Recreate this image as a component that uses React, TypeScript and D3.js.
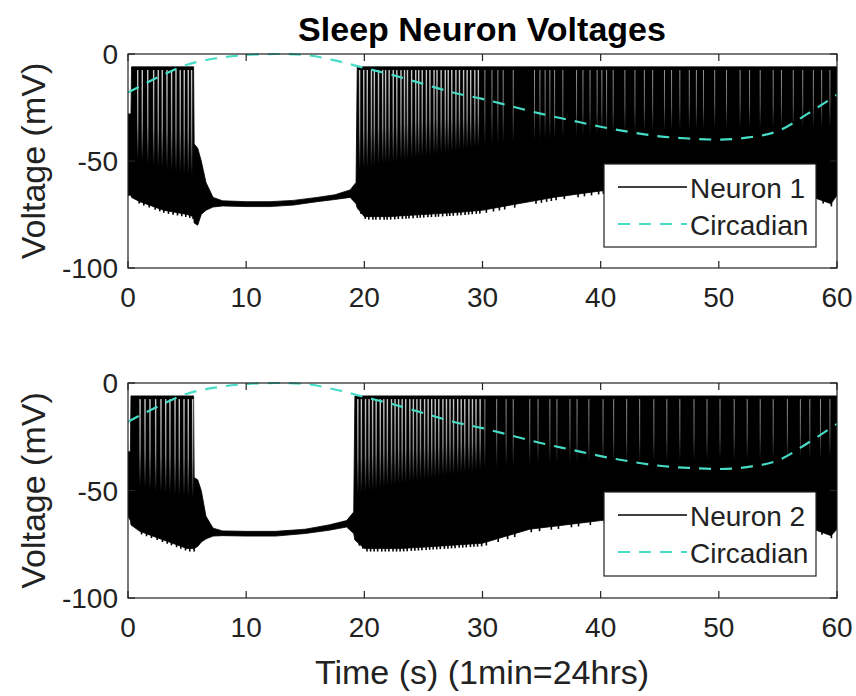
import * as d3 from 'd3'

const W = 856
const H = 696
const FONT = 'Liberation Sans, Arial, Helvetica, sans-serif'
const INK = '#222'
const CIRC_COLOR = '#46dcc6'

const X_TICKS = [0, 10, 20, 30, 40, 50, 60]
const Y_TICKS = [-100, -50, 0]

// spike peak level (mV)
const PEAK = -6
// after this time the spiking is dense and the gaps between spikes get thin
const DENSE_FROM = 30

// circadian drive, read every 2.5 s
const circT = [0, 2.5, 5, 7.5, 10, 12.5, 15, 17.5, 20, 22.5, 25, 27.5, 30, 32.5, 35, 37.5, 40, 42.5, 45, 47.5, 50, 52.5, 55, 57.5, 60]
const circV = [-18, -11, -5, -2, -0.5, 0, -0.5, -3, -6.5, -10, -14, -18, -21, -24.5, -28, -31, -34, -36.5, -38.5, -39.5, -40, -39, -36, -28, -19]

// neuron 1: envelope of the trace (top / bottom of the black band)
const n1T = [0, 0.25, 0.3, 1, 2, 3, 4, 5, 5.55, 5.6, 5.9, 6.2, 6.6, 7.2, 8, 10, 12, 14, 16, 17.5, 18.8, 19.3, 19.4, 20, 22, 25, 28, 30, 33, 36, 40, 45, 50, 55, 58, 59.5, 60]
const n1Top = [-28, -28, PEAK, PEAK, PEAK, PEAK, PEAK, PEAK, PEAK, -42, -44, -50, -60, -67, -68.6, -69, -69, -68.4, -67, -65.8, -63.5, -60, PEAK, PEAK, PEAK, PEAK, PEAK, PEAK, PEAK, PEAK, PEAK, PEAK, PEAK, PEAK, PEAK, PEAK, PEAK]
const n1Low = [-66, -66, -67, -69, -71, -73, -74, -75, -76, -79, -80, -75, -73, -71.5, -71, -71.3, -71.3, -70.6, -69, -68, -67, -70, -72, -76, -76, -75, -74, -73, -70, -67, -64, -62, -62, -64, -67, -70, -66]
// level below which the spiking band is solid black
const n1SolidT = [0.3, 2, 4, 5.5, 19.4, 21, 24, 27, 30, 35, 40, 45, 50, 55, 60]
const n1SolidV = [-48, -52, -55, -57, -55, -52, -49, -46, -43, -40, -38, -36, -35, -35, -35]
// times of the white gaps between spikes
const n1Gaps = [
  0.82, 1.21, 1.67, 2.17, 2.56, 2.9, 3.3, 3.69, 4.06, 4.42, 4.76, 5.1, 5.38,
  19.6, 19.95, 20.25, 20.6, 20.85, 21.2, 21.55, 21.8, 22.1, 22.45, 22.75, 23.1, 23.4, 23.65, 24.0, 24.35, 24.6, 24.9,
  25.25, 25.55, 25.9, 26.15, 26.5, 26.85, 27.1, 27.4, 27.75, 28.05, 28.4, 28.7, 29.0, 29.35, 29.65,
  30.2, 30.8, 31.3, 31.75, 32.6, 34.4, 34.86, 35.3, 35.7, 36.1, 36.8, 37.96, 38.5, 39.1, 39.7, 40.1,
  40.5, 41.06, 42.05, 42.9, 43.7, 44.4, 45.4, 46.0, 46.7, 47.5, 48.1, 48.7, 49.65, 50.65, 51.8, 52.6,
  53.5, 54.6, 55.3, 56.3, 57.1, 58.0, 58.7, 59.4,
]

// neuron 2
const n2T = [0, 0.2, 0.25, 1, 2, 3, 4, 5, 5.55, 5.6, 5.9, 6.2, 6.6, 7.2, 8, 10, 12.5, 15, 17, 18.5, 19.1, 19.2, 20, 23, 26, 30, 34, 37, 40, 45, 50, 55, 58, 59.5, 60]
const n2Top = [-32, -32, PEAK, PEAK, PEAK, PEAK, PEAK, PEAK, PEAK, -44, -45, -50, -62, -67.5, -68.8, -69, -69, -68, -66, -64, -60, PEAK, PEAK, PEAK, PEAK, PEAK, PEAK, PEAK, PEAK, PEAK, PEAK, PEAK, PEAK, PEAK, PEAK]
const n2Low = [-62, -64, -66, -69, -71, -73, -75, -77, -77, -77, -76, -74, -72.5, -71.2, -71, -71.2, -71.2, -70, -68.5, -67, -70, -73, -77, -77, -76, -74.5, -68, -66, -64, -61, -61, -63, -68, -71, -68]
const n2SolidT = [0.25, 2, 4, 5.5, 19.2, 22, 26, 30, 35, 40, 50, 60]
const n2SolidV = [-46, -50, -52, -54, -52, -48, -44, -40, -38, -37, -36, -35]
const n2Gaps = [
  1.02, 1.44, 1.86, 2.34, 2.79, 3.19, 3.55, 3.98, 4.34, 4.74, 5.1, 5.47,
  19.45, 19.75, 20.1, 20.4, 20.7, 21.0, 21.35, 21.65, 21.95, 22.3, 22.6, 22.9, 23.2, 23.5, 23.85, 24.15, 24.45, 24.75,
  25.1, 25.4, 25.7, 26.0, 26.3, 26.65, 26.95, 27.25, 27.55, 27.9, 28.2, 28.5, 28.85, 29.15, 29.45, 29.8,
  30.2, 31.2, 32.0, 32.6, 34.0, 34.7, 35.7, 36.3, 37.4, 38.0, 39.0, 40.2, 41.1, 42.2, 43.3, 44.5,
  45.6, 46.7, 47.9, 49.0, 50.1, 51.3, 52.4, 53.5, 54.6, 55.8, 56.9, 57.7, 58.6, 59.4,
]

const LEFT = 128
const RIGHT = 837
const TICK = 7

interface PanelProps {
  top: number
  bottom: number
  t: number[]
  vTop: number[]
  vLow: number[]
  solidT: number[]
  solidV: number[]
  gaps: number[]
  neuronLabel: string
  legend: { x: number; y: number; w: number; h: number }
}

function Panel({ top, bottom, t, vTop, vLow, solidT, solidV, gaps, neuronLabel, legend }: PanelProps) {
  const x = d3.scaleLinear().domain([0, 60]).range([LEFT, RIGHT])
  const y = d3.scaleLinear().domain([-100, 0]).range([bottom, top])
  const solid = d3.scaleLinear().domain(solidT).range(solidV).clamp(true)
  const low = d3.scaleLinear().domain(t).range(vLow)

  const band = d3
    .area<number>()
    .x((_, i) => x(t[i]))
    .y0((_, i) => y(vLow[i]))
    .y1((_, i) => y(vTop[i]))
    .curve(d3.curveLinear)(t.map((_, i) => i)) ?? ''

  const circ = d3
    .line<number>()
    .x((_, i) => x(circT[i]))
    .y((_, i) => y(circV[i]))
    .curve(d3.curveMonotoneX)(circT.map((_, i) => i)) ?? ''

  const row1 = legend.y + 23
  const row2 = legend.y + 60

  return (
    <g>
      <clipPath id={`clip-${top}`}>
        <rect x={LEFT} y={top - 2} width={RIGHT - LEFT} height={bottom - top + 2} />
      </clipPath>
      <g clipPath={`url(#clip-${top})`}>
        <path d={band} fill="#000" stroke="#000" strokeWidth={0.8} strokeLinejoin="round" />
        {/* trough tips below the band */}
        {gaps.map((g) => (
          <line
            key={`tr${g}`}
            x1={x(g) + 1.5}
            x2={x(g) + 1.5}
            y1={y(low(g)) - 2}
            y2={y(low(g)) + 3}
            stroke="#000"
            strokeWidth={1.6}
          />
        ))}
        {gaps.map((g) => {
          const y0 = y(PEAK - 1.5)
          const y1 = y(solid(g))
          const dense = g >= DENSE_FROM
          return (
            <rect
              key={g}
              x={x(g) - (dense ? 0.5 : 0.7)}
              y={y0}
              width={dense ? 1 : 1.4}
              height={y1 - y0}
              fill="url(#gapFade)"
              opacity={dense ? 0.7 : 0.95}
            />
          )
        })}
        <path d={circ} fill="none" stroke={CIRC_COLOR} strokeWidth={2.2} strokeDasharray="12 9" />
      </g>

      {/* axes box */}
      <rect x={LEFT} y={top} width={RIGHT - LEFT} height={bottom - top} fill="none" stroke={INK} strokeWidth={1.2} />
      {X_TICKS.map((v) => (
        <g key={`x${v}`}>
          <line x1={x(v)} x2={x(v)} y1={bottom} y2={bottom - TICK} stroke={INK} strokeWidth={1.2} />
          <line x1={x(v)} x2={x(v)} y1={top} y2={top + TICK} stroke={INK} strokeWidth={1.2} />
          <text x={x(v)} y={bottom + 39} textAnchor="middle" fontSize={28} fill={INK} fontFamily={FONT}>
            {v}
          </text>
        </g>
      ))}
      {Y_TICKS.map((v) => (
        <g key={`y${v}`}>
          <line x1={LEFT} x2={LEFT + TICK} y1={y(v)} y2={y(v)} stroke={INK} strokeWidth={1.2} />
          <line x1={RIGHT} x2={RIGHT - TICK} y1={y(v)} y2={y(v)} stroke={INK} strokeWidth={1.2} />
          <text x={LEFT - 10} y={y(v) + 10} textAnchor="end" fontSize={28} fill={INK} fontFamily={FONT}>
            {v}
          </text>
        </g>
      ))}
      <text
        transform={`translate(45,${(top + bottom) / 2}) rotate(-90)`}
        textAnchor="middle"
        fontSize={34}
        fill={INK}
        fontFamily={FONT}
      >
        Voltage (mV)
      </text>

      {/* legend */}
      <rect x={legend.x} y={legend.y} width={legend.w} height={legend.h} fill="#fff" stroke={INK} strokeWidth={1.2} />
      <line x1={legend.x + 14} x2={legend.x + 83} y1={row1} y2={row1} stroke="#000" strokeWidth={1.4} />
      <text x={legend.x + 86} y={row1 + 11} fontSize={28} fill={INK} fontFamily={FONT}>
        {neuronLabel}
      </text>
      <line
        x1={legend.x + 14}
        x2={legend.x + 83}
        y1={row2}
        y2={row2}
        stroke={CIRC_COLOR}
        strokeWidth={2.2}
        strokeDasharray="12 9"
      />
      <text x={legend.x + 86} y={row2 + 11} fontSize={28} fill={INK} fontFamily={FONT}>
        Circadian
      </text>
    </g>
  )
}

export default function App() {
  return (
    <div style={{ position: 'fixed', left: 0, top: 0 }}>
      <svg width={W} height={H} viewBox={`0 0 ${W} ${H}`} style={{ display: 'block', background: '#fff' }}>
        <defs>
          <linearGradient id="gapFade" x1="0" y1="0" x2="0" y2="1">
            <stop offset="0" stopColor="#fff" stopOpacity={0.85} />
            <stop offset="0.6" stopColor="#fff" stopOpacity={0.55} />
            <stop offset="1" stopColor="#fff" stopOpacity={0} />
          </linearGradient>
        </defs>
        <text x={482} y={41} textAnchor="middle" fontSize={34} fontWeight={700} fill="#000" fontFamily={FONT}>
          Sleep Neuron Voltages
        </text>
        <Panel
          top={54}
          bottom={268}
          t={n1T}
          vTop={n1Top}
          vLow={n1Low}
          solidT={n1SolidT}
          solidV={n1SolidV}
          gaps={n1Gaps}
          neuronLabel="Neuron 1"
          legend={{ x: 604, y: 164, w: 212, h: 83 }}
        />
        <Panel
          top={383}
          bottom={598}
          t={n2T}
          vTop={n2Top}
          vLow={n2Low}
          solidT={n2SolidT}
          solidV={n2SolidV}
          gaps={n2Gaps}
          neuronLabel="Neuron 2"
          legend={{ x: 604, y: 492, w: 212, h: 84 }}
        />
        <text x={482} y={684} textAnchor="middle" fontSize={34} fill={INK} fontFamily={FONT}>
          Time (s) (1min=24hrs)
        </text>
      </svg>
    </div>
  )
}
